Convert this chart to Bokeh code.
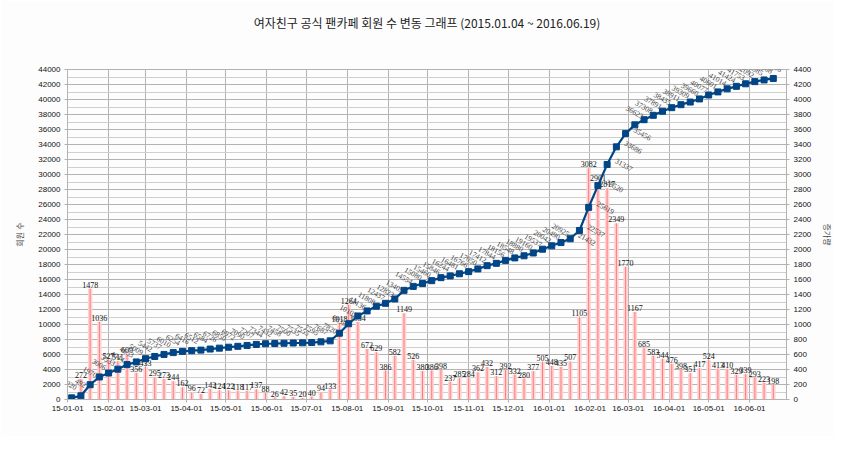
import pandas as pd
from datetime import datetime
from bokeh.plotting import figure
from bokeh.models import (Range1d, LinearAxis, SingleIntervalTicker, MonthsTicker,
                          DatetimeTickFormatter, ColumnDataSource, Title)
from bokeh.embed import file_html
from bokeh.resources import INLINE

# ---- data (weekly, 2015-01-04 .. 2016-06-19) ----
dates = list(pd.date_range("2015-01-04", "2016-06-19", freq="7D"))
members = [220, 492, 1970, 3006, 3533, 4044, 4653, 5009, 5442, 5737,
           6010, 6254, 6416, 6512, 6584, 6726, 6850, 6972, 7090, 7207,
           7344, 7432, 7458, 7500, 7535, 7555, 7595, 7687, 7820, 8838,
           10102, 11136, 11808, 12437, 12823, 13405, 14554, 15080, 15460, 15846,
           16244, 16481, 16766, 17050, 17412, 17844, 18156, 18548, 18880, 19160,
           19537, 20042, 20490, 20925, 21432, 22537, 25619, 28520, 31337, 33686,
           35456, 36623, 37308, 37891, 38435, 38911, 39309, 39660, 40077, 40601,
           41014, 41424, 41753, 42092, 42385, 42608, 42806]
increase = [272, 1478, 1036, 527, 511, 609, 356, 433, 295, 273,
            244, 162, 96, 72, 142, 124, 122, 118, 117, 137,
            88, 26, 42, 35, 20, 40, 94, 133, 1018, 1264,
            1034, 672, 629, 386, 582, 1149, 526, 380, 386, 398,
            237, 285, 284, 362, 432, 312, 392, 332, 280, 377,
            505, 448, 435, 507, 1105, 3082, 2901, 2817, 2349, 1770,
            1167, 685, 583, 544, 476, 398, 351, 417, 524, 413,
            410, 329, 339, 293, 223, 198]
title_text = "여자친구 공식 팬카페 회원 수 변동 그래프 (2015.01.04 ~ 2016.06.19)"
left_label = "회원 수"
right_label = "증가량"

FONT = "Liberation Sans, Noto Sans CJK KR"
BG = "#fdfdfd"
GRID = "#b3b3b3"

p = figure(width=834, height=436, x_axis_type="datetime",
           x_range=Range1d(datetime(2014, 12, 31, 20), datetime(2016, 6, 29)),
           y_range=Range1d(0, 44000),
           output_backend="svg", toolbar_location=None,
           min_border_left=67, min_border_right=43, min_border_top=69, min_border_bottom=37,
           background_fill_color=BG, border_fill_color=BG,
           outline_line_color=GRID)
p.extra_y_ranges = {"right": Range1d(0, 4400)}

# spacer between frame and title, then the title (outermost)
p.add_layout(Title(text=" ", text_font_size="20px"), "above")
p.title.text = title_text
p.title.align = "center"
p.title.text_font = "Noto Sans CJK KR"
p.title.text_font_size = "12px"
p.title.text_font_style = "normal"
p.title.text_color = "#222222"

# grids
p.xgrid.grid_line_color = GRID
p.ygrid.grid_line_color = GRID
p.ygrid.minor_grid_line_color = "#cfcfcf"

# x axis
p.xaxis.ticker = MonthsTicker(months=list(range(1, 13)))
p.xaxis.formatter = DatetimeTickFormatter(months="%y-%m-%d", days="%y-%m-%d", years="%y-%m-%d")

# left axis
p.yaxis.ticker = SingleIntervalTicker(interval=2000, num_minor_ticks=2)
p.yaxis.axis_label = left_label
p.yaxis.axis_label_standoff = 10

# right axis
ra = LinearAxis(y_range_name="right", ticker=SingleIntervalTicker(interval=200, num_minor_ticks=2),
                axis_label=right_label, axis_label_standoff=8)
p.add_layout(ra, "right")

for ax in [p.xaxis[0], p.yaxis[0], ra]:
    ax.axis_line_color = GRID
    ax.major_tick_line_color = GRID
    ax.minor_tick_line_color = None
    ax.major_tick_in = 0
    ax.major_tick_out = 3
    ax.major_label_text_font = FONT
    ax.major_label_text_font_size = "8px"
    ax.major_label_text_color = "#111111"
    ax.major_label_standoff = 3
    ax.axis_label_text_font = FONT
    ax.axis_label_text_font_size = "8px"
    ax.axis_label_text_font_style = "normal"
    ax.axis_label_text_color = "#444444"

# bars (weekly increase, right axis)
bar_src = ColumnDataSource(dict(x=dates[1:], top=increase, lab=[str(v) for v in increase]))
day_ms = 86400000
p.vbar(x="x", top="top", width=3.4 * day_ms, source=bar_src, y_range_name="right",
       fill_color="#ffd3d3", line_color=None)
p.segment(x0="x", y0=0, x1="x", y1="top", source=bar_src, y_range_name="right",
          line_color="#ff7a7a", line_width=1)
p.text(x="x", y="top", text="lab", source=bar_src, y_range_name="right",
       text_align="center", text_baseline="bottom", y_offset=-1,
       text_font_size="8px", text_color="#111111", text_font="Liberation Sans")

# member line
right_side = set(range(54, 61))
xo = [17 if i in right_side else 0 for i in range(len(members))]
yo = [0 if i in right_side else -13 for i in range(len(members))]
line_src = ColumnDataSource(dict(x=dates, y=members, lab=[str(v) for v in members], xo=xo, yo=yo))
p.line(x="x", y="y", source=line_src, line_color="#004586", line_width=2.2)
p.scatter(x="x", y="y", source=line_src, marker="square", size=6,
          fill_color="#004586", line_color="#004586")
p.text(x="x", y="y", text="lab", source=line_src, x_offset="xo", y_offset="yo",
       angle=-30, angle_units="deg", text_align="center", text_baseline="middle",
       text_font_size="7.5px", text_color="#444444", text_font="Liberation Sans")

open("out.html", "w").write(file_html(p, INLINE))
